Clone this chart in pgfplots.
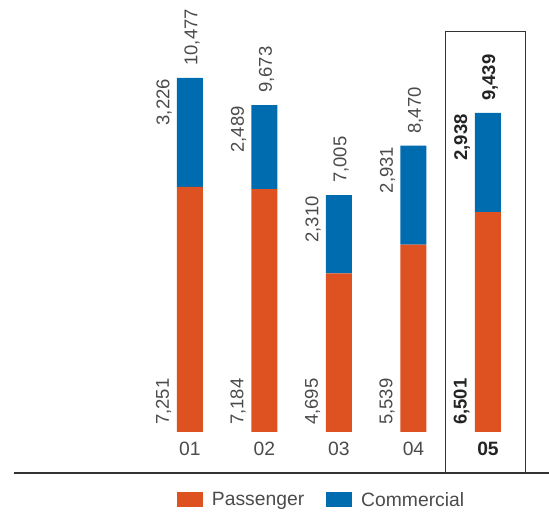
\documentclass[border=0pt]{standalone}
\usepackage{fontspec}
\setmainfont{Liberation Sans}
\usepackage{pgfplots}
\pgfplotsset{compat=1.18}
\usetikzlibrary{calc}
\definecolor{pass}{RGB}{221,82,32}
\definecolor{comm}{RGB}{0,108,176}
\definecolor{txt}{RGB}{75,75,75}
\definecolor{txtb}{RGB}{35,35,35}
\newcommand{\lf}{\fontsize{18.5bp}{20bp}\selectfont}
\newcommand{\lgf}{\fontsize{19.3bp}{21bp}\selectfont}
\pgfplotsset{boxleg/.style={legend image code/.code={\fill[##1] (0bp,-7.5bp) rectangle (26bp,7.5bp); \path (33bp,0bp);}}}
\begin{document}
\begin{tikzpicture}[
  lbl/.style={rotate=90, inner sep=0pt, font=\lf, text=txt},
  lblb/.style={rotate=90, inner sep=0pt, font=\lf\bfseries, text=txtb}]
\begin{axis}[
  x=74.5bp, y=0.0338bp,
  xmin=-1.55, xmax=5.819, ymin=0, ymax=12781,
  ybar stacked, bar width=26bp,
  axis line style={draw=none}, tick style={draw=none},
  ytick=\empty, xtick={1,2,3,4,5},
  xticklabels={01,02,03,04,\textcolor{txtb}{\textbf{05}}},
  xticklabel style={anchor=base, yshift=-23.5bp, font=\lgf, text=txt},
  clip=false,
  legend columns=2,
  legend style={at={(0.3224,-0.1574)}, anchor=west, draw=none, fill=none,
    inner sep=0pt, outer sep=0pt, font=\lgf, text=txt,
    /tikz/every even column/.append style={column sep=20bp}},
]
\addplot[fill=pass, draw=none, boxleg]
  coordinates {(1,7251) (2,7184) (3,4695) (4,5539) (5,6501)};
\addlegendentry{Passenger}
\addplot[fill=comm, draw=none, boxleg]
  coordinates {(1,3226) (2,2489) (3,2310) (4,2931) (5,2938)};
\addlegendentry{Commercial}

% passenger labels
\node[lbl, anchor=west] at ($(axis cs:1,0)+(-26.5bp,7bp)$) {7,251};
\node[lbl, anchor=west] at ($(axis cs:2,0)+(-26.5bp,7bp)$) {7,184};
\node[lbl, anchor=west] at ($(axis cs:3,0)+(-26.5bp,7bp)$) {4,695};
\node[lbl, anchor=west] at ($(axis cs:4,0)+(-26.5bp,7bp)$) {5,539};
\node[lblb, anchor=west] at ($(axis cs:5,0)+(-26.5bp,7bp)$) {6,501};
% commercial labels
\node[lbl, anchor=east] at ($(axis cs:1,10477)+(-26bp,-1bp)$) {3,226};
\node[lbl, anchor=east] at ($(axis cs:2,9673)+(-26bp,-1bp)$) {2,489};
\node[lbl, anchor=east] at ($(axis cs:3,7005)+(-26bp,-1bp)$) {2,310};
\node[lbl, anchor=east] at ($(axis cs:4,8470)+(-26bp,-1bp)$) {2,931};
\node[lblb, anchor=east] at ($(axis cs:5,9439)+(-26bp,-1bp)$) {2,938};
% totals
\node[lbl, anchor=west] at ($(axis cs:1,10477)+(2bp,12bp)$) {10,477};
\node[lbl, anchor=west] at ($(axis cs:2,9673)+(2bp,12bp)$) {9,673};
\node[lbl, anchor=west] at ($(axis cs:3,7005)+(2bp,12bp)$) {7,005};
\node[lbl, anchor=west] at ($(axis cs:4,8470)+(2bp,12bp)$) {8,470};
\node[lblb, anchor=west] at ($(axis cs:5,9439)+(2bp,12bp)$) {9,439};

\draw[black!80, line width=1.2bp] (axis cs:-1.362,-1213) -- (axis cs:5.819,-1213);
\draw[black!80, line width=1bp] (axis cs:4.436,-1213) rectangle (axis cs:5.497,11834);

\coordinate (BL) at (axis cs:-1.55,-2396);
\coordinate (TR) at (axis cs:5.819,12781);
\end{axis}
\pgfresetboundingbox
\path[use as bounding box] (BL) rectangle (TR);
\end{tikzpicture}
\end{document}
